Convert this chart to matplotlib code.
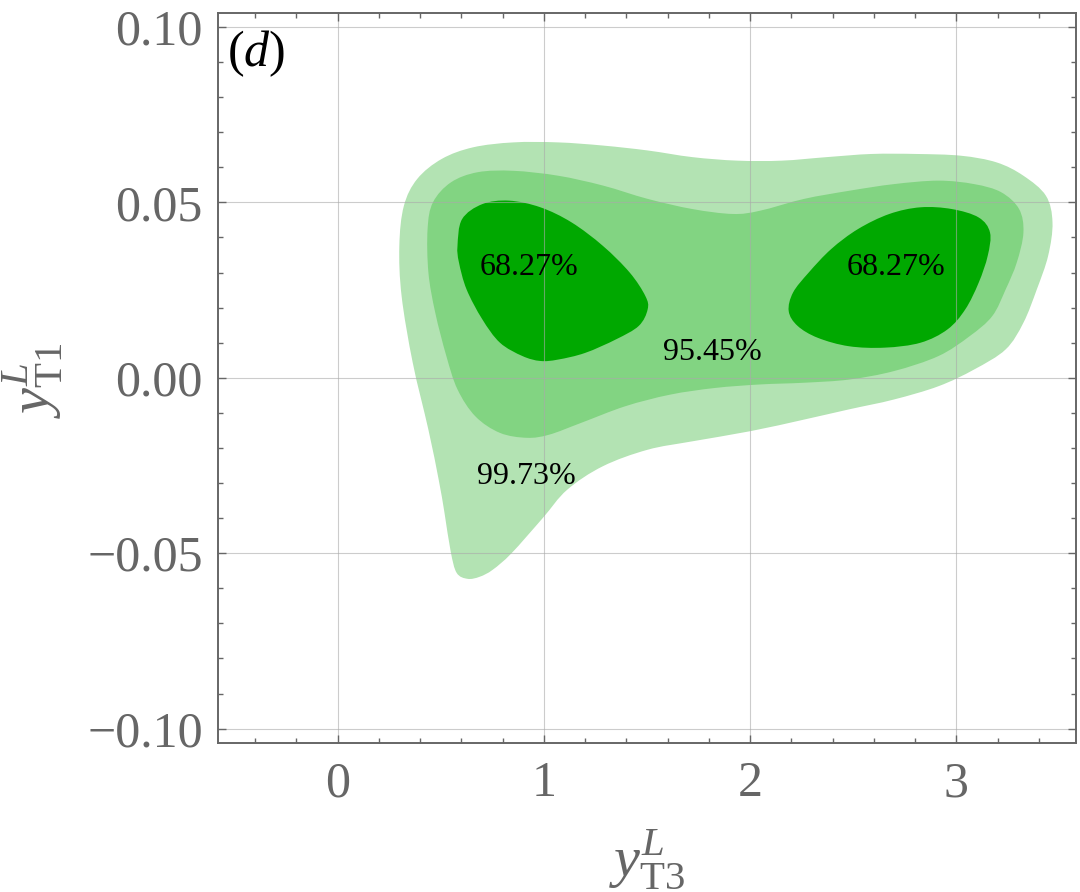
import numpy as np
import matplotlib
matplotlib.use("Agg")
import matplotlib.pyplot as plt
from matplotlib.path import Path
from matplotlib.patches import PathPatch
from matplotlib.ticker import MultipleLocator, FixedLocator

# DATA------------------------------------------------------------------------------------------------------------------
# outline of the 99.73% region (x = y_T3^L, y = y_T1^L)
outer_x = [0.630, 0.577, 0.548, 0.518, 0.490, 0.440, 0.364, 0.310, 0.299, 0.321, 0.386, 0.505, 0.657, 0.852,
           1.069, 1.286, 1.503, 1.720, 1.937, 2.154, 2.371, 2.588, 2.805, 3.022, 3.195, 3.325, 3.434, 3.466,
           3.445, 3.390, 3.325, 3.239, 3.087, 2.913, 2.696, 2.479, 2.262, 2.002, 1.720, 1.503, 1.286, 1.113,
           0.994, 0.843, 0.752, 0.689]
outer_y = [-0.0573, -0.0556, -0.0495, -0.0385, -0.0291, -0.0148, 0.0043, 0.0233, 0.0376, 0.0490, 0.0567,
           0.0624, 0.0657, 0.0671, 0.0671, 0.0662, 0.0648, 0.0629, 0.0619, 0.0619, 0.0629, 0.0638, 0.0638,
           0.0633, 0.0614, 0.0576, 0.0519, 0.0443, 0.0348, 0.0252, 0.0157, 0.0081, 0.0024, -0.0024, -0.0062,
           -0.0090, -0.0119, -0.0152, -0.0181, -0.0205, -0.0252, -0.0319, -0.0400, -0.0500, -0.0547, -0.0567]

# outline of the 95.45% region
mid_x = [0.436, 0.462, 0.549, 0.679, 0.852, 1.069, 1.286, 1.503, 1.720, 1.915, 2.046, 2.262, 2.479, 2.696,
         2.913, 3.087, 3.217, 3.304, 3.325, 3.293, 3.239, 3.174, 3.065, 2.913, 2.696, 2.479, 2.262, 2.046,
         1.829, 1.612, 1.395, 1.178, 1.026, 0.918, 0.787, 0.668, 0.581, 0.527, 0.473, 0.440]
mid_y = [0.0424, 0.0500, 0.0557, 0.0586, 0.0590, 0.0576, 0.0548, 0.0510, 0.0481, 0.0467, 0.0476, 0.0510,
         0.0533, 0.0552, 0.0562, 0.0552, 0.0529, 0.0481, 0.0414, 0.0329, 0.0252, 0.0176, 0.0119, 0.0062,
         0.0019, -0.0005, -0.0014, -0.0019, -0.0029, -0.0048, -0.0081, -0.0129, -0.0162, -0.0171, -0.0157,
         -0.0110, -0.0033, 0.0062, 0.0186, 0.0300]

# the two 68.27% islands
left_x = [0.581, 0.603, 0.701, 0.831, 0.983, 1.134, 1.286, 1.416, 1.492, 1.503, 1.460, 1.351, 1.200, 1.069,
          0.983, 0.896, 0.787, 0.701, 0.625, 0.588]
left_y = [0.0376, 0.0452, 0.0495, 0.0505, 0.0486, 0.0443, 0.0376, 0.0300, 0.0233, 0.0195, 0.0148, 0.0110,
          0.0071, 0.0052, 0.0048, 0.0062, 0.0100, 0.0167, 0.0252, 0.0329]

right_x = [2.187, 2.208, 2.284, 2.393, 2.523, 2.675, 2.826, 2.978, 3.108, 3.163, 3.152, 3.108, 3.043, 2.957,
           2.826, 2.653, 2.479, 2.328, 2.230]
right_y = [0.0190, 0.0243, 0.0300, 0.0367, 0.0424, 0.0467, 0.0486, 0.0481, 0.0457, 0.0414, 0.0348, 0.0271,
           0.0195, 0.0138, 0.0100, 0.0086, 0.0090, 0.0114, 0.0148]

level_labels = ["68.27%", "68.27%", "95.45%", "99.73%"]
label_x = [0.928, 2.707, 1.818, 0.913]
label_y = [0.0314, 0.0314, 0.0071, -0.0281]

xticks = [0, 1, 2, 3]
xtick_labels = ["0", "1", "2", "3"]
yticks = [-0.10, -0.05, 0.00, 0.05, 0.10]
ytick_labels = ["\u22120.10", "\u22120.05", "0.00", "0.05", "0.10"]

# STYLE-----------------------------------------------------------------------------------------------------------------
plt.rcParams['font.family'] = ['Liberation Serif', 'DejaVu Serif']
plt.rcParams['mathtext.fontset'] = 'custom'
plt.rcParams['mathtext.rm'] = 'Liberation Serif'
plt.rcParams['mathtext.it'] = 'Liberation Serif:italic'

gray = '#666666'
c_outer = '#b3e3b3'
c_mid = '#82d482'
c_inner = '#00a800'


def smooth_patch(xs, ys, color):
    # closed Catmull-Rom outline turned into cubic bezier segments
    pts = np.column_stack([xs, ys])
    n = len(pts)
    verts = [pts[0]]
    codes = [Path.MOVETO]
    for i in range(n):
        p0 = pts[(i - 1) % n]
        p1 = pts[i]
        p2 = pts[(i + 1) % n]
        p3 = pts[(i + 2) % n]
        verts += [p1 + (p2 - p0) / 6.0, p2 - (p3 - p1) / 6.0, p2]
        codes += [Path.CURVE4] * 3
    verts.append(pts[0])
    codes.append(Path.CLOSEPOLY)
    return PathPatch(Path(verts, codes), facecolor=color, edgecolor='none', zorder=1)


# PLOT------------------------------------------------------------------------------------------------------------------
fig = plt.figure(figsize=(10.8, 8.92), dpi=100)
ax = fig.add_axes([0.2019, 0.1674, 0.7944, 0.8181])

ax.add_patch(smooth_patch(outer_x, outer_y, c_outer))
ax.add_patch(smooth_patch(mid_x, mid_y, c_mid))
ax.add_patch(smooth_patch(left_x, left_y, c_inner))
ax.add_patch(smooth_patch(right_x, right_y, c_inner))

for txt, lx, ly in zip(level_labels, label_x, label_y):
    ax.text(lx, ly, txt, fontsize=23, color='black', ha='center', va='center', zorder=5)

ax.text(0.011, 0.944, r'($\mathit{d}$)', transform=ax.transAxes, fontsize=36, color='black',
        ha='left', va='center', zorder=5)

ax.set_xlim(-0.58, 3.58)
ax.set_ylim(-0.104, 0.104)

ax.xaxis.set_major_locator(FixedLocator(xticks))
ax.set_xticklabels(xtick_labels)
ax.yaxis.set_major_locator(FixedLocator(yticks))
ax.set_yticklabels(ytick_labels)
ax.xaxis.set_minor_locator(MultipleLocator(0.2))
ax.yaxis.set_minor_locator(MultipleLocator(0.01))

ax.grid(True, which='major', color='#aaaaaa', linewidth=0.8, alpha=0.6, zorder=2)
ax.set_axisbelow(False)

ax.tick_params(which='both', direction='in', top=True, right=True, color=gray, width=1.0,
               labelcolor=gray, labelsize=36)
ax.tick_params(which='major', length=6)
ax.tick_params(which='minor', length=3.5)
ax.tick_params(axis='x', which='major', pad=13)
ax.tick_params(axis='y', which='major', pad=11)

for sp in ax.spines.values():
    sp.set_color(gray)
    sp.set_linewidth(1.4)
    sp.set_zorder(6)

ax.set_xlabel(r'$y^{L}_{\mathrm{T3}}$', fontsize=42, color=gray, ha='center', va='center')
ax.xaxis.set_label_coords(0.5, -0.160)
ax.set_ylabel(r'$y^{L}_{\mathrm{T1}}$', fontsize=42, color=gray, ha='center', va='center')
ax.yaxis.set_label_coords(-0.216, 0.497)

plt.savefig('out.png', dpi=100)
